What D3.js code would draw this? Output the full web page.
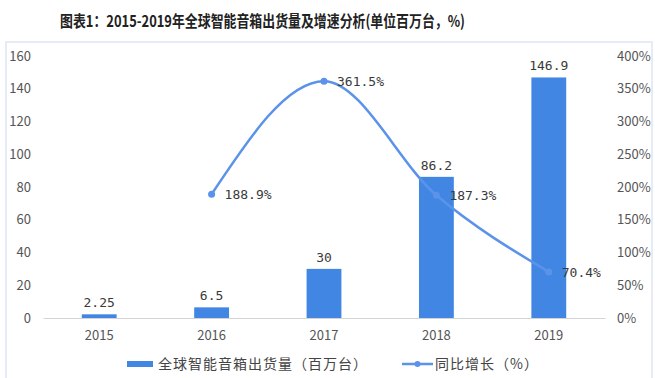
<!DOCTYPE html>
<html>
<head>
<meta charset="utf-8">
<script src="https://cdn.jsdelivr.net/npm/d3@7"></script>
<style>
  html, body { margin: 0; padding: 0; background: #fff; }
  svg { display: block; }
</style>
</head>
<body>
<svg id="chart" width="655" height="378"></svg>
<script>
// data
const years = ["2015", "2016", "2017", "2018", "2019"];
const shipments = [2.25, 6.5, 30, 86.2, 146.9];
const shipmentLabels = ["2.25", "6.5", "30", "86.2", "146.9"];
const growthYears = ["2016", "2017", "2018", "2019"];
const growth = [188.9, 361.5, 187.3, 70.4];
const leftTicks = [0, 20, 40, 60, 80, 100, 120, 140, 160];
const rightTicks = [0, 50, 100, 150, 200, 250, 300, 350, 400];
const title = "图表1：2015-2019年全球智能音箱出货量及增速分析(单位百万台，%)";
const legendNames = ["全球智能音箱出货量（百万台）", "同比增长（%）"];

const barColor = "#4286e4";
const lineColor = "#5b93ea";
const sansFont = "'Noto Sans CJK SC', 'Noto Sans', sans-serif";
const monoFont = "'DejaVu Sans Mono', monospace";

const svg = d3.select("#chart");

// light frame around the chart body
svg.append("rect")
  .attr("x", 6).attr("y", 42)
  .attr("width", 646).attr("height", 340)
  .attr("fill", "none")
  .attr("stroke", "#e6ecf6")
  .attr("stroke-width", 2);

// title
svg.append("text")
  .attr("x", 262.5)
  .attr("y", 27)
  .attr("text-anchor", "middle")
  .attr("font-family", sansFont)
  .attr("font-size", 16)
  .attr("font-weight", "bold")
  .attr("fill", "#222")
  .attr("textLength", 405)
  .attr("lengthAdjust", "spacingAndGlyphs")
  .text(title);

// -------------------------------------------------
// scales
// -------------------------------------------------
const x = d3.scaleBand()
  .domain(years)
  .range([43, 605])
  .paddingInner(0.69)
  .paddingOuter(0.345);

const yLeft = d3.scaleLinear().domain([0, 160]).range([318, 56]);
const yRight = d3.scaleLinear().domain([0, 400]).range([318, 56]);

const cx = (d) => x(d) + x.bandwidth() / 2;

// -------------------------------------------------
// axes
// -------------------------------------------------
const leftAxis = svg.append("g")
  .attr("transform", "translate(31,0)")
  .call(d3.axisLeft(yLeft).tickValues(leftTicks).tickSize(0).tickPadding(0));
leftAxis.select(".domain").remove();

const rightAxis = svg.append("g")
  .attr("transform", "translate(617,0)")
  .call(d3.axisRight(yRight).tickValues(rightTicks).tickSize(0).tickPadding(0)
    .tickFormat((d) => d + "%"));
rightAxis.select(".domain").remove();

const xAxis = svg.append("g")
  .attr("transform", "translate(0,318)")
  .call(d3.axisBottom(x).tickSize(0).tickPadding(13));
xAxis.select(".domain").attr("stroke", "#d4d4d4");

svg.selectAll(".tick text")
  .attr("font-family", sansFont)
  .attr("font-size", 13)
  .attr("fill", "#555");

// -------------------------------------------------
// bars
// -------------------------------------------------
svg.selectAll(".bar")
  .data(years)
  .enter()
  .append("rect")
  .attr("class", "bar")
  .attr("x", (d) => x(d))
  .attr("y", (d, i) => yLeft(shipments[i]))
  .attr("width", x.bandwidth())
  .attr("height", (d, i) => yLeft(0) - yLeft(shipments[i]))
  .attr("fill", barColor);

svg.selectAll(".bar-label")
  .data(years)
  .enter()
  .append("text")
  .attr("class", "bar-label")
  .attr("x", (d) => cx(d))
  .attr("y", (d, i) => yLeft(shipments[i]) - 7)
  .attr("text-anchor", "middle")
  .attr("font-family", monoFont)
  .attr("font-size", 13)
  .attr("fill", "#3a3a3a")
  .text((d, i) => shipmentLabels[i]);

// -------------------------------------------------
// growth line
// -------------------------------------------------
const pts = growthYears.map((yr, i) => ({ yr: yr, v: growth[i] }));

const line = d3.line()
  .x((d) => cx(d.yr))
  .y((d) => yRight(d.v))
  .curve(d3.curveMonotoneX);

svg.append("path")
  .datum(pts)
  .attr("fill", "none")
  .attr("stroke", lineColor)
  .attr("stroke-width", 2.5)
  .attr("d", line);

svg.selectAll(".pt")
  .data(pts)
  .enter()
  .append("circle")
  .attr("class", "pt")
  .attr("cx", (d) => cx(d.yr))
  .attr("cy", (d) => yRight(d.v))
  .attr("r", 3.5)
  .attr("fill", lineColor);

svg.selectAll(".pt-label")
  .data(pts)
  .enter()
  .append("text")
  .attr("class", "pt-label")
  .attr("x", (d) => cx(d.yr) + 13)
  .attr("y", (d) => yRight(d.v) + 5)
  .attr("font-family", monoFont)
  .attr("font-size", 13)
  .attr("fill", "#3a3a3a")
  .text((d) => d.v.toFixed(1) + "%");

// -------------------------------------------------
// legend
// -------------------------------------------------
const legend = svg.append("g").attr("transform", "translate(0,364)");

legend.append("rect")
  .attr("x", 127).attr("y", -3)
  .attr("width", 26).attr("height", 6)
  .attr("fill", barColor);

legend.append("text")
  .attr("x", 158).attr("y", 5)
  .attr("font-family", sansFont)
  .attr("font-size", 14)
  .attr("letter-spacing", 1)
  .attr("fill", "#444")
  .text(legendNames[0]);

legend.append("line")
  .attr("x1", 402).attr("x2", 433)
  .attr("y1", 0).attr("y2", 0)
  .attr("stroke", lineColor)
  .attr("stroke-width", 2.5);

legend.append("circle")
  .attr("cx", 417.5).attr("cy", 0)
  .attr("r", 3)
  .attr("fill", lineColor);

legend.append("text")
  .attr("x", 435).attr("y", 5)
  .attr("font-family", sansFont)
  .attr("font-size", 14)
  .attr("letter-spacing", 1)
  .attr("fill", "#444")
  .text(legendNames[1]);
</script>
</body>
</html>
